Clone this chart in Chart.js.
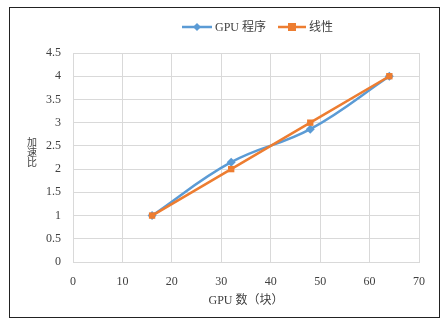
<!DOCTYPE html>
<html>
<head>
<meta charset="utf-8">
<script src="https://cdn.jsdelivr.net/npm/chart.js@4/dist/chart.umd.min.js"></script>
<style>
  html, body { margin: 0; padding: 0; background: #fff; }
  #wrap { width: 448px; height: 325px; position: relative; }
</style>
</head>
<body>
<div id="wrap"><canvas id="c" width="448" height="325"></canvas></div>
<script>
// GPU count (blocks) and measured vs. ideal speed-up
const gpuCounts = [16, 32, 48, 64];
const gpuSpeedup = [1, 2.15, 2.86, 4];
const linearSpeedup = [1, 2, 3, 4];
const seriesNames = ['GPU 程序', '线性'];
const xTitle = 'GPU 数（块）';
const yTitle = '加速比';

const BLUE = '#5B9BD5';
const ORANGE = '#ED7D31';
const GRID = '#d9d9d9';
const FONT = "'Liberation Serif', 'Noto Sans CJK SC', serif";

const toPoints = (xs, ys) => xs.map((x, i) => ({ x, y: ys[i] }));

// Frame around the whole figure, stacked y title and line+marker legend
const decorations = {
  id: 'decorations',
  afterDraw(chart) {
    const ctx = chart.ctx;
    ctx.save();
    ctx.strokeStyle = '#222';
    ctx.lineWidth = 1;
    ctx.strokeRect(9.5, 7.5, 430, 310);

    // vertical stacked axis title, one character per line
    ctx.fillStyle = '#404040';
    ctx.font = '10px "Noto Sans CJK SC", sans-serif';
    ctx.textAlign = 'center';
    ctx.textBaseline = 'alphabetic';
    const chars = Array.from(yTitle);
    for (let i = 0; i < chars.length; i++) {
      ctx.fillText(chars[i], 32, 146 + i * 10);
    }

    // legend
    const items = [
      { x: 182, len: 30, ds: chart.data.datasets[0] },
      { x: 278, len: 28, ds: chart.data.datasets[1] }
    ];
    const ly = 27;
    items.forEach(it => {
      const c = it.ds.borderColor;
      ctx.strokeStyle = c;
      ctx.lineWidth = 2.5;
      ctx.beginPath();
      ctx.moveTo(it.x, ly);
      ctx.lineTo(it.x + it.len, ly);
      ctx.stroke();
      ctx.fillStyle = c;
      const mx = it.x + it.len / 2;
      ctx.beginPath();
      if (it.ds.pointStyle === 'rectRot') {
        ctx.moveTo(mx, ly - 4); ctx.lineTo(mx + 4, ly); ctx.lineTo(mx, ly + 4); ctx.lineTo(mx - 4, ly);
        ctx.closePath(); ctx.fill();
      } else {
        ctx.fillRect(mx - 4, ly - 4, 8, 8);
      }
      ctx.fillStyle = '#404040';
      ctx.font = "12px " + FONT;
      ctx.textAlign = 'left';
      ctx.textBaseline = 'middle';
      ctx.fillText(it.ds.label, it.x + it.len + 3, ly + 1);
    });
    ctx.restore();
  }
};

new Chart(document.getElementById('c'), {
  type: 'scatter',
  data: {
    datasets: [
      {
        label: seriesNames[0],
        data: toPoints(gpuCounts, gpuSpeedup),
        showLine: true,
        tension: 0.4,
        borderColor: BLUE,
        backgroundColor: BLUE,
        borderWidth: 2.5,
        pointStyle: 'rectRot',
        pointRadius: 4.5,
        pointBorderWidth: 0,
        order: 2
      },
      {
        label: seriesNames[1],
        data: toPoints(gpuCounts, linearSpeedup),
        showLine: true,
        tension: 0,
        borderColor: ORANGE,
        backgroundColor: ORANGE,
        borderWidth: 2.5,
        pointStyle: 'rect',
        pointRadius: 4.5,
        pointBorderWidth: 0,
        order: 1
      }
    ]
  },
  options: {
    responsive: false,
    animation: false,
    devicePixelRatio: 1,
    layout: { padding: { left: 0, right: 29, top: 53, bottom: 8 } },
    plugins: {
      legend: { display: false },
      tooltip: { enabled: false }
    },
    scales: {
      x: {
        type: 'linear',
        min: 0, max: 70,
        ticks: { stepSize: 10, color: '#404040', font: { family: FONT, size: 12 }, padding: 13 },
        grid: { color: GRID, lineWidth: 1, drawTicks: false },
        border: { color: GRID },
        title: { display: true, text: xTitle, color: '#404040', font: { family: FONT, size: 12 }, padding: { top: 0, bottom: 9 } },
        afterFit(s) { s.height = 325 - 8 - 262; }
      },
      y: {
        min: 0, max: 4.5,
        ticks: {
          stepSize: 0.5, color: '#404040', font: { family: FONT, size: 12 }, padding: 12,
          callback: v => String(Math.round(v * 10) / 10)
        },
        grid: { color: GRID, lineWidth: 1, drawTicks: false },
        border: { color: GRID },
        afterFit(s) { s.width = 73; }
      }
    }
  },
  plugins: [decorations]
});
</script>
</body>
</html>
